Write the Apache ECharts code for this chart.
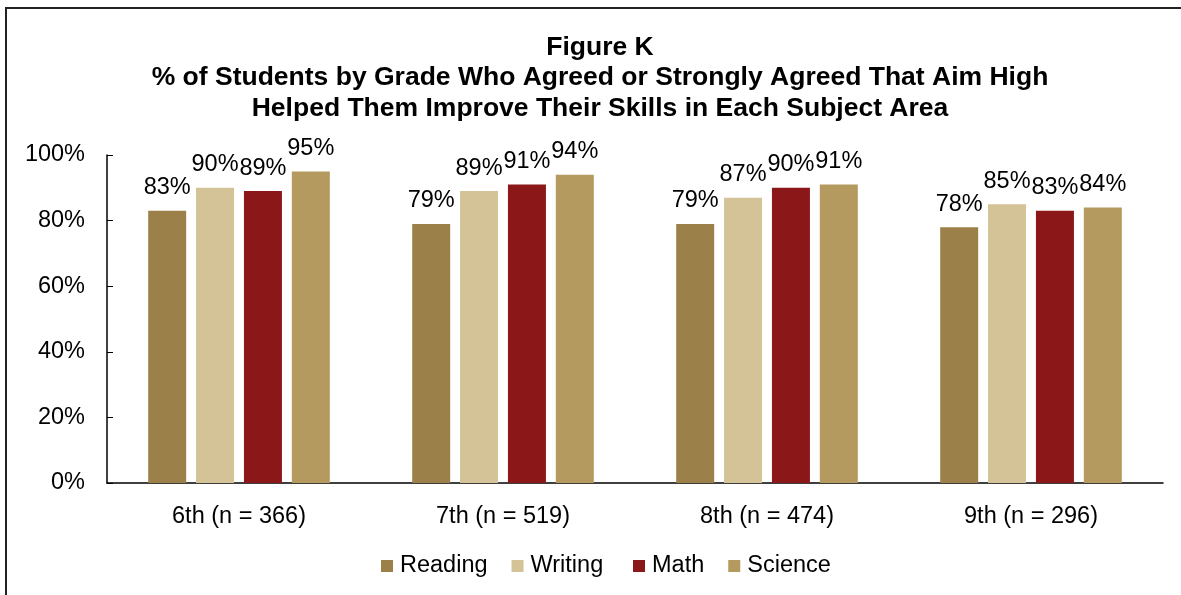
<!DOCTYPE html>
<html><head><meta charset="utf-8">
<script src="https://cdn.jsdelivr.net/npm/echarts@6/dist/echarts.min.js"></script>
<style>html,body{margin:0;padding:0;background:#fff}#c{width:1181px;height:595px}</style>
</head><body><div id="c"></div>
<script>
const categories = ['6th (n = 366)', '7th (n = 519)', '8th (n = 474)', '9th (n = 296)'];
const seriesNames = ['Reading', 'Writing', 'Math', 'Science'];
const reading = [83, 79, 79, 78];
const writing = [90, 89, 87, 85];
const math = [89, 91, 90, 83];
const science = [95, 94, 91, 84];
const yTicks = [0, 20, 40, 60, 80, 100];
const colors = ['#9B8049', '#D4C396', '#8B1719', '#B49A5F'];
const values = [reading, writing, math, science];
const FONT = '"Liberation Sans", Arial, sans-serif';
const FS = 23.5;

const legendBase = {
  top: 554, itemWidth: 12, itemHeight: 12, itemGap: 24, padding: 0,
  textStyle: { fontFamily: FONT, fontSize: FS, color: '#000', padding: [0, 0, 0, 2] }
};

const chart = echarts.init(document.getElementById('c'));
chart.setOption({
  animation: false,
  textStyle: { fontFamily: FONT },
  graphic: [{ type: 'rect', shape: { x: 6, y: 8, width: 1300, height: 700 }, style: { fill: 'none', stroke: '#222', lineWidth: 2 } }],
  title: {
    text: 'Figure K\n% of Students by Grade Who Agreed or Strongly Agreed That Aim High\nHelped Them Improve Their Skills in Each Subject Area',
    left: 600, top: 32, textAlign: 'center', padding: 0,
    textStyle: { fontFamily: FONT, fontWeight: 'bold', fontSize: 26.5, lineHeight: 30.5, color: '#000' }
  },
  legend: [
    Object.assign({}, legendBase, { left: 381, data: seriesNames.slice(0, 2).map(n => ({ name: n, icon: 'rect' })) }),
    Object.assign({}, legendBase, { left: 633, data: seriesNames.slice(2).map(n => ({ name: n, icon: 'rect' })) })
  ],
  grid: { left: 107, right: 18, top: 155, bottom: 112, containLabel: false },
  xAxis: {
    type: 'category', data: categories,
    axisLine: { lineStyle: { color: '#000', width: 1.5 } },
    axisTick: { show: false },
    axisLabel: { color: '#000', fontSize: FS, fontFamily: FONT, margin: 22 }
  },
  yAxis: {
    type: 'value', min: 0, max: 100, interval: 20,
    axisLine: { show: true, lineStyle: { color: '#000', width: 1.5 } },
    axisTick: { show: true, inside: true, length: 6, lineStyle: { color: '#000' } },
    splitLine: { show: false },
    axisLabel: { color: '#000', fontSize: FS, fontFamily: FONT, margin: 22, formatter: v => yTicks.includes(v) ? v + '%' : '' }
  },
  series: seriesNames.map((n, i) => ({
    name: n, type: 'bar', data: values[i],
    barWidth: 38, barGap: '26%', barCategoryGap: '31%',
    itemStyle: { color: colors[i] },
    label: { show: true, position: 'top', distance: 11, color: '#000', fontSize: FS, fontFamily: FONT, formatter: p => p.value + '%' }
  }))
});
</script></body></html>
